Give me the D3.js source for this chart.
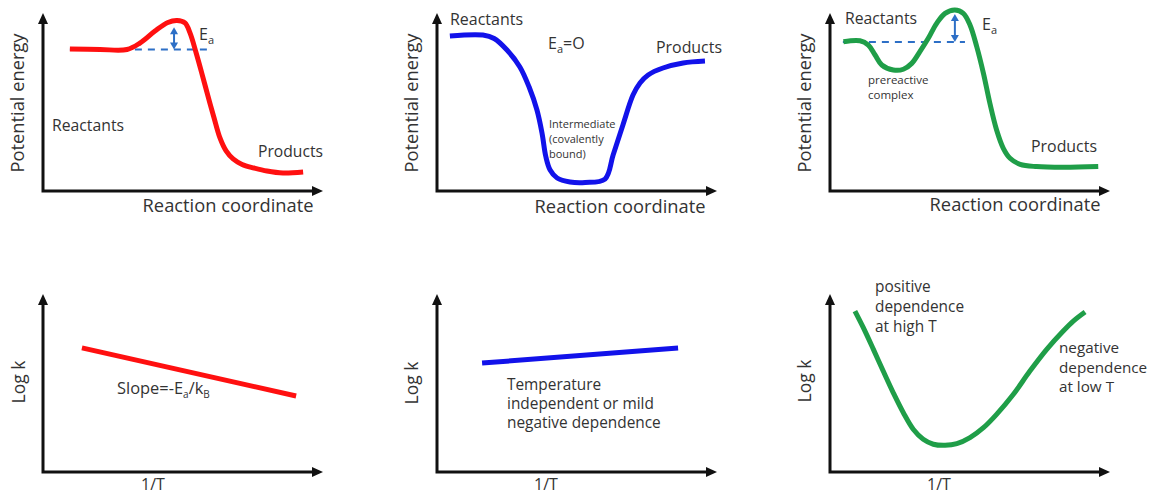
<!DOCTYPE html>
<html>
<head>
<meta charset="utf-8">
<script src="https://cdn.jsdelivr.net/npm/d3@7"></script>
<style>
  body { margin: 0; background: #fff; }
  svg text { font-family: "Open Sans", "Noto Sans", sans-serif; fill: #333; }
</style>
</head>
<body>
<svg id="chart" width="1149" height="496"></svg>
<script>
// ---- Potential energy profiles (reaction coordinate 0–100, energy 0–100) ----
const barrierProfile = [
  [9.6, 79.8], [20.4, 79.5], [30.0, 79.5], [34.6, 83.1], [40.0, 89.9], [44.6, 94.7],
  [47.9, 95.8], [50.7, 94.4], [52.5, 88.8], [54.6, 78.1], [56.8, 65.7], [58.9, 53.4],
  [61.1, 41.0], [63.2, 29.8], [65.4, 22.5], [67.9, 18.0], [71.1, 14.9], [75.4, 12.9],
  [80.0, 11.2], [85.7, 10.1], [92.9, 10.7]
];
const barrierlessProfile = [
  [4.6, 87.1], [16.4, 87.6], [20.4, 85.7], [25.0, 79.2], [29.6, 69.7], [32.9, 58.4],
  [35.7, 45.5], [37.5, 32.6], [38.9, 19.1], [40.4, 11.8], [42.9, 7.3], [47.5, 5.1],
  [52.9, 4.8], [60.0, 6.7], [62.9, 20.2], [66.4, 37.1], [70.0, 53.9], [72.5, 60.7],
  [75.4, 65.2], [80.7, 69.1], [87.9, 71.9], [95.7, 73.0]
];
const complexProfile = [
  [4.8, 83.9], [10.7, 84.4], [13.7, 82.0], [16.1, 76.4], [18.5, 70.8], [22.6, 68.0],
  [26.2, 68.4], [29.2, 71.7], [32.1, 78.3], [35.1, 85.8], [38.1, 94.2], [41.1, 99.8],
  [44.6, 101.7], [47.6, 99.8], [50.0, 93.3], [52.4, 81.1], [54.8, 66.1], [57.1, 49.3],
  [59.5, 34.3], [61.9, 24.0], [64.3, 18.4], [67.9, 15.0], [73.8, 13.7], [83.3, 13.3],
  [95.8, 13.7]
];
// Reactant energy level and activation energy span
const barrierLevel = [[9.6, 79.5], [60.4, 79.5]];
const barrierEa = [[46.8, 79.5], [46.8, 92.0]];
const complexLevel = [[4.6, 83.7], [48.2, 83.7]];
const complexEa = [[44.6, 83.7], [44.6, 99.5]];

// ---- Rate coefficient vs inverse temperature (1/T 0–100, log k 0–100) ----
const arrheniusLine = [[13.9, 69.7], [90.4, 42.7]];
const mildLine = [[16.1, 61.2], [86.1, 69.7]];
const vShapedCurve = [
  [8.9, 90.4], [11.9, 81.1], [15.5, 68.9], [19.0, 56.7], [22.6, 44.5], [26.2, 33.3],
  [29.8, 23.9], [33.3, 18.4], [36.9, 15.6], [41.1, 15.0], [45.3, 15.9], [50.0, 19.3],
  [54.8, 24.9], [59.5, 32.4], [65.5, 43.7], [71.4, 56.7], [77.4, 68.9], [83.3, 79.2],
  [86.9, 84.8], [91.1, 89.9]
];

// ---- Axis titles ----
const energyAxisTitles = ["Reaction coordinate", "Potential energy"];
const rateAxisTitles = ["1/T", "Log k"];

// ---- Layout ----
const W = 280, H = 178;
const colors = { red: "#ff1010", blue: "#1212ea", green: "#1f9e48", dash: "#2d6fc6", axis: "#111" };

const svg = d3.select("#chart");

// font size that makes a set of texts span the given widths on average
function fitGroup(sels, widths, maxSize = 99) {
  const base = +sels[0].attr("font-size");
  let r = 0;
  sels.forEach((s, i) => { r += widths[i] / s.node().getComputedTextLength(); });
  const size = Math.min(maxSize, base * r / sels.length).toFixed(2);
  sels.forEach(s => s.attr("font-size", size));
}

function panel(ox, oy) {
  const g = svg.append("g");
  const x = d3.scaleLinear().domain([0, 100]).range([ox, ox + W]);
  const y = d3.scaleLinear().domain([0, 100]).range([oy, oy - H]);
  const x0 = x(0), y0 = y(0), xt = x(100), yt = y(100);
  g.append("path")
    .attr("d", `M${x0},${yt + 8} L${x0},${y0} L${xt - 8},${y0}`)
    .attr("fill", "none").attr("stroke", colors.axis).attr("stroke-width", 3)
    .attr("stroke-linejoin", "miter");
  g.append("path").attr("d", `M${x0},${yt} L${x0 - 5},${yt + 11} L${x0 + 5},${yt + 11} Z`).attr("fill", colors.axis);
  g.append("path").attr("d", `M${xt},${y0} L${xt - 11},${y0 - 5} L${xt - 11},${y0 + 5} Z`).attr("fill", colors.axis);
  return { g, x, y, ox, oy };
}

function curve(p, data, color, width, smooth = true) {
  const line = d3.line().x(d => p.x(d[0])).y(d => p.y(d[1]));
  if (smooth) line.curve(d3.curveCatmullRom.alpha(0.5));
  p.g.append("path").attr("d", line(data))
    .attr("fill", "none").attr("stroke", color).attr("stroke-width", width)
    .attr("stroke-linecap", "butt").attr("stroke-linejoin", "round");
}

function dashed(p, data) {
  p.g.append("line")
    .attr("x1", p.x(data[0][0])).attr("y1", p.y(data[0][1]))
    .attr("x2", p.x(data[1][0])).attr("y2", p.y(data[1][1]))
    .attr("stroke", colors.dash).attr("stroke-width", 2).attr("stroke-dasharray", "7,6");
}

function doubleArrow(p, data) {
  const xa = p.x(data[0][0]), yb = p.y(data[0][1]), yt = p.y(data[1][1]);
  p.g.append("line").attr("x1", xa).attr("x2", xa).attr("y1", yb - 5).attr("y2", yt + 5)
    .attr("stroke", colors.dash).attr("stroke-width", 2);
  p.g.append("path").attr("d", `M${xa},${yt} L${xa - 4},${yt + 7} L${xa + 4},${yt + 7} Z`).attr("fill", colors.dash);
  p.g.append("path").attr("d", `M${xa},${yb} L${xa - 4},${yb - 7} L${xa + 4},${yb - 7} Z`).attr("fill", colors.dash);
}

function text(p, dx, dy, str, width, anchor = "start", size = 15) {
  const t = p.g.append("text").attr("x", p.ox + dx).attr("y", p.oy + dy)
    .attr("font-size", size).attr("text-anchor", anchor).text(str);
  if (width) fitGroup([t], [width]);
  return t;
}

function lines(p, dx, dy, arr, widths, lh, maxSize) {
  const sels = arr.map((s, i) => text(p, dx, dy + i * lh, s, null));
  fitGroup(sels, widths, maxSize);
}

function eaLabel(p, dx, dy, suffix) {
  const t = p.g.append("text").attr("x", p.ox + dx).attr("y", p.oy + dy).attr("font-size", 16);
  t.append("tspan").text("E");
  t.append("tspan").attr("font-size", 11).attr("dy", 4).text("a");
  if (suffix) t.append("tspan").attr("dy", -4).text(suffix);
}

function axisTitles(p, titles, widths, xdx, xdy, ydx, ydy) {
  text(p, xdx, xdy, titles[0], widths[0], "middle", 16);
  const t = p.g.append("text").attr("font-size", 16).attr("text-anchor", "middle")
    .attr("transform", `translate(${p.ox + ydx},${p.oy + ydy}) rotate(-90)`)
    .text(titles[1]);
  if (widths[1]) fitGroup([t], [widths[1]]);
}

// ---- Top row: potential energy diagrams ----
const p1 = panel(43, 191);
dashed(p1, barrierLevel);
curve(p1, barrierProfile, colors.red, 5);
doubleArrow(p1, barrierEa);
eaLabel(p1, 156, -151);
text(p1, 9, -60, "Reactants", 72);
text(p1, 215, -34, "Products", 65);
axisTitles(p1, energyAxisTitles, [171, 139], 185, 21, -19, -88);

const p2 = panel(437, 191);
curve(p2, barrierlessProfile, colors.blue, 5);
text(p2, 13, -166, "Reactants", 73);
eaLabel(p2, 111, -142, "=O");
text(p2, 219, -138, "Products", 66);
lines(p2, 112, -63, ["Intermediate", "(covalently", "bound)"], [70, 68, 37], 15, 11);
axisTitles(p2, energyAxisTitles, [171, 139], 183, 22, -19, -88);

const p3 = panel(830, 191);
dashed(p3, complexLevel);
curve(p3, complexProfile, colors.green, 5);
doubleArrow(p3, complexEa);
eaLabel(p3, 152, -161);
text(p3, 15, -167, "Reactants", 72);
lines(p3, 38, -107, ["prereactive", "complex"], [68, 49], 15, 11.5);
text(p3, 201, -39, "Products", 66);
axisTitles(p3, energyAxisTitles, [171, 139], 185, 20, -19, -88);

// ---- Bottom row: log k versus 1/T ----
const p4 = panel(43, 472);
curve(p4, arrheniusLine, colors.red, 5, false);
{
  const t = p4.g.append("text").attr("x", p4.ox + 74).attr("y", p4.oy - 78).attr("font-size", 15);
  t.append("tspan").text("Slope=-E");
  t.append("tspan").attr("font-size", 10).attr("dy", 4).text("a");
  t.append("tspan").attr("dy", -4).text("/k");
  t.append("tspan").attr("font-size", 10).attr("dy", 4).text("B");
  fitGroup([t], [94]);
}
axisTitles(p4, rateAxisTitles, [null, 43], 110, 18, -18, -90);

const p5 = panel(437, 472);
curve(p5, mildLine, colors.blue, 5, false);
lines(p5, 70, -82, ["Temperature", "independent or mild", "negative dependence"], [94, 147, 154], 19);
axisTitles(p5, rateAxisTitles, [null, 43], 109, 18, -19, -89);

const p6 = panel(830, 472);
curve(p6, vShapedCurve, colors.green, 5);
lines(p6, 45, -180, ["positive", "dependence", "at high T"], [57, 88, 61], 20);
lines(p6, 229, -119, ["negative", "dependence", "at low T"], [62, 87, 54], 19.5);
axisTitles(p6, rateAxisTitles, [null, 43], 109, 18, -19, -91);
</script>
</body>
</html>
